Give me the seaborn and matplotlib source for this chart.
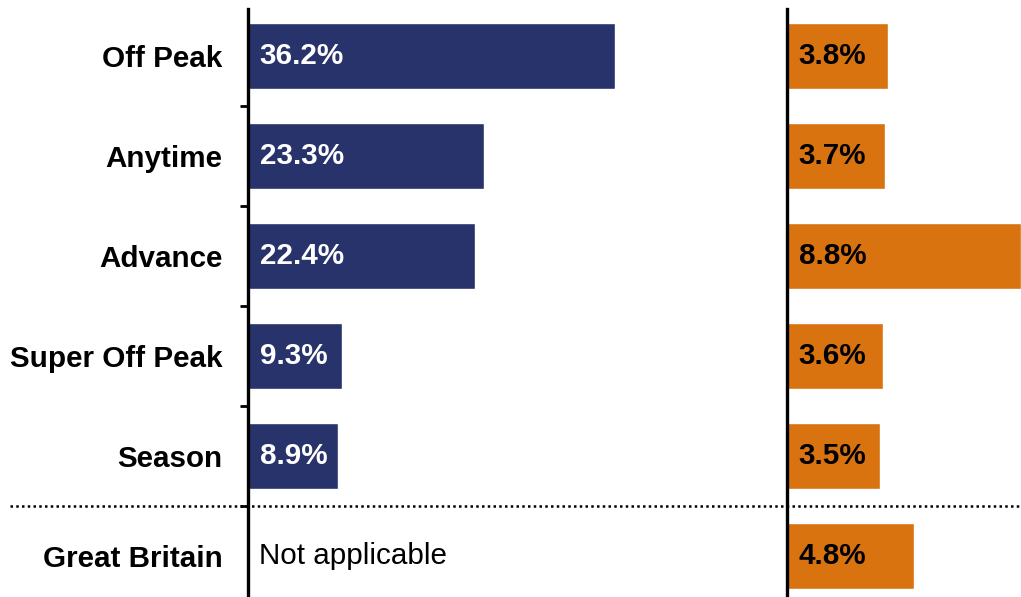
import numpy as np
import pandas as pd
import matplotlib
matplotlib.use("Agg")
import matplotlib.pyplot as plt
import matplotlib.transforms as mtransforms
from matplotlib.lines import Line2D
import seaborn as sns

categories = ["Off Peak", "Anytime", "Advance", "Super Off Peak", "Season", "Great Britain"]
share_values = [36.2, 23.3, 22.4, 9.3, 8.9, np.nan]
change_values = [3.8, 3.7, 8.8, 3.6, 3.5, 4.8]
na_label = "Not applicable"

NAVY = "#27336A"
ORANGE = "#D8730F"

sns.set_theme(style="white")
plt.rcParams["font.family"] = ["Liberation Sans", "DejaVu Sans"]
FS = 21.3

df = pd.DataFrame({"cat": categories, "share": share_values, "change": change_values})

W, H = 1021, 597
fig = plt.figure(figsize=(W / 100, H / 100), dpi=100)
ax1 = fig.add_axes([248 / W, 0, (760 - 248) / W, 588 / H])
ax2 = fig.add_axes([787 / W, 0, (W - 787) / W, 588 / H])

sns.barplot(data=df, x="share", y="cat", orient="h", color=NAVY, width=0.66,
            saturation=1, ax=ax1)
sns.barplot(data=df, x="change", y="cat", orient="h", color=ORANGE, width=0.66,
            saturation=1, ax=ax2)

ax1.set_xlim(0, (760 - 248) / 10.14)
ax2.set_xlim(0, (W - 787) / 26.55)
for ax in (ax1, ax2):
    ax.set_ylim(5.41, -0.47)
    ax.set_xlabel("")
    ax.set_ylabel("")
    ax.set_xticks([])
    for s in ("top", "right", "bottom"):
        ax.spines[s].set_visible(False)
    ax.spines["left"].set_color("black")
    ax.spines["left"].set_linewidth(2.4)
    ax.patch.set_alpha(0)

ax1.set_yticks(range(len(categories)))
ax1.set_yticklabels(categories, fontsize=FS, fontweight="bold", color="black")
ax1.tick_params(axis="y", which="major", length=0, pad=18.5)
ax1.set_yticks(np.arange(0.5, len(categories) - 1, 1.0), minor=True)
ax1.tick_params(axis="y", which="minor", length=5.5, width=2.0, color="black", left=True)
ax2.set_yticks([])

for i, v in enumerate(share_values):
    if np.isnan(v):
        ax1.annotate(na_label, xy=(0, i), xytext=(8, 0), textcoords="offset points",
                     va="center", ha="left", fontsize=FS, color="black")
    else:
        ax1.annotate(f"{v}%", xy=(0, i), xytext=(8.5, 0), textcoords="offset points",
                     va="center", ha="left", fontsize=FS, fontweight="bold", color="white")
for i, v in enumerate(change_values):
    ax2.annotate(f"{v}%", xy=(0, i), xytext=(8.5, 0), textcoords="offset points",
                 va="center", ha="left", fontsize=FS, fontweight="bold", color="black")

trans = mtransforms.blended_transform_factory(fig.transFigure, ax1.transData)
fig.add_artist(Line2D([10 / W, 1.0], [4.5, 4.5], transform=trans, color="black",
                      linestyle=(0, (1, 1.3)), linewidth=1.8))

fig.savefig("out.png", dpi=100)
